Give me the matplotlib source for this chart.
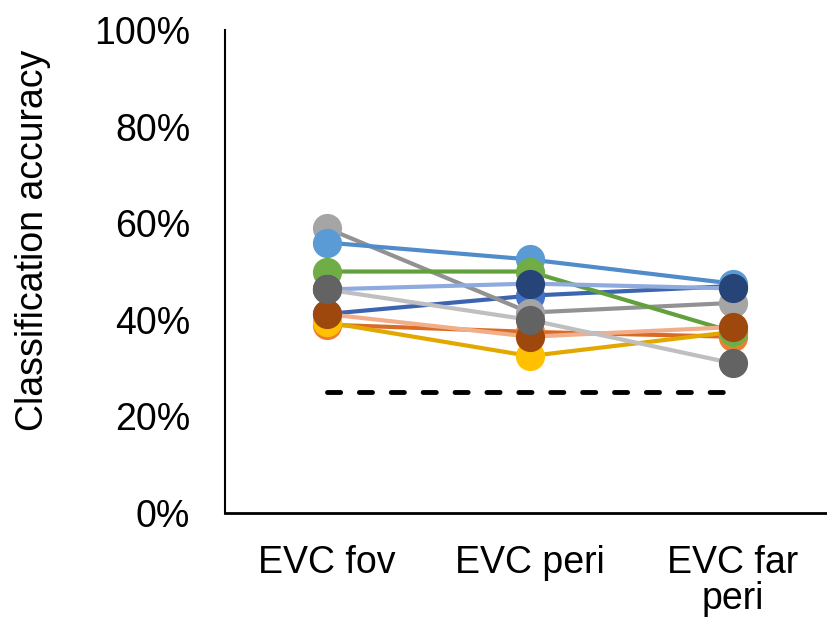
import matplotlib
matplotlib.use('Agg')
import matplotlib.pyplot as plt
from matplotlib.ticker import PercentFormatter

plt.rcParams['font.family'] = ['Liberation Sans', 'DejaVu Sans']

regions = ['EVC fov', 'EVC peri', 'EVC far\nperi']
chance = [25, 25, 25]

# accuracy (%) per subject
s1 = [41.2, 45.0, 47.0]
s2 = [39.0, 37.5, 36.5]
s3 = [59.0, 41.5, 43.5]
s4 = [39.5, 32.5, 37.5]
s5 = [56.0, 52.5, 47.5]
s6 = [50.0, 50.0, 37.5]
s7 = [46.3, 47.5, 46.5]
s8 = [41.2, 36.5, 38.5]
s9 = [46.3, 40.0, 31.0]
subjects = [s1, s2, s3, s4, s5, s6, s7, s8, s9]

# (line colour, marker colour)
colours = [('#3C64B1', '#4472C4'),
           ('#D96B27', '#ED7D31'),
           ('#929292', '#A5A5A5'),
           ('#E2A800', '#FFC000'),
           ('#4F8CC9', '#5B9BD5'),
           ('#62A03E', '#70AD47'),
           ('#8FAADC', '#264478'),
           ('#F2AE88', '#9E480E'),
           ('#BFBFBF', '#636363')]

fig = plt.figure(figsize=(8.27, 6.26), dpi=100)
ax = fig.add_axes([0.272, 0.1805, 0.737, 0.7715])

x = list(range(len(regions)))
ax.plot(x, chance, color='black', lw=3.5, linestyle=(0, (2.7, 3.86)),
        dash_capstyle='round', zorder=1)

z = 2
for vals, (lc, mc) in zip(subjects, colours):
    ax.plot(x, vals, color=lc, lw=3, zorder=z)
    ax.plot(x, vals, linestyle='none', marker='o', markersize=20,
            markerfacecolor=mc, markeredgecolor=mc, zorder=z + 0.5)
    z += 1

ax.set_xlim(-0.5, 2.5)
ax.set_ylim(0, 100)
ax.set_yticks([0, 20, 40, 60, 80, 100])
ax.yaxis.set_major_formatter(PercentFormatter(100, decimals=0))
ax.set_xticks(x)
ax.set_xticklabels(regions, linespacing=1.0)
ax.tick_params(axis='both', length=0, labelsize=27)
ax.tick_params(axis='y', pad=25)
ax.tick_params(axis='x', pad=23)

for side in ['top', 'right']:
    ax.spines[side].set_visible(False)
ax.spines['left'].set_linewidth(1.5)
ax.spines['bottom'].set_linewidth(2)

ax.set_ylabel('Classification accuracy', fontsize=27)
ax.yaxis.set_label_coords(-0.286, 0.565)

fig.savefig('out.png', dpi=100)
